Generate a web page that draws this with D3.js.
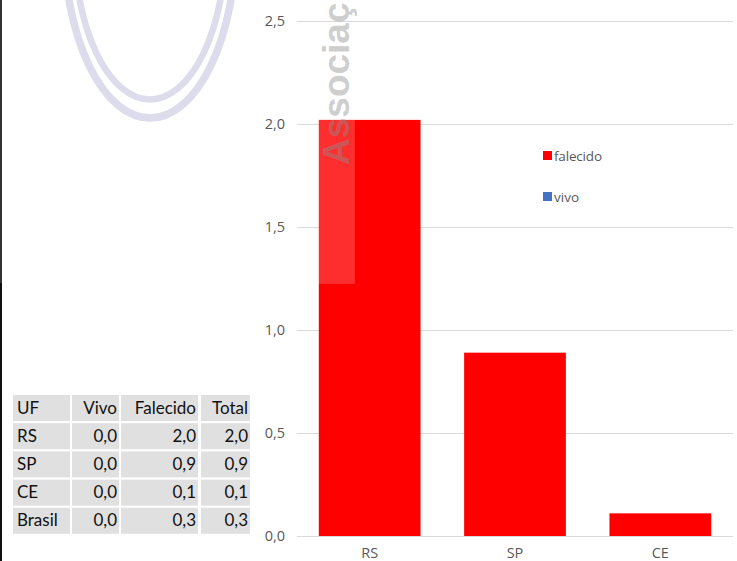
<!DOCTYPE html>
<html>
<head>
<meta charset="utf-8">
<script src="https://cdn.jsdelivr.net/npm/d3@7"></script>
<style>
  html, body { margin: 0; padding: 0; background: #fff; }
  svg { display: block; }
</style>
</head>
<body>
<svg id="chart" width="737" height="561"></svg>
<script>
// ---- data ----
const categories = ["RS", "SP", "CE"];
const seriesKeys = ["vivo", "falecido"];
const vivo = [0, 0, 0];
const falecido = [2.02, 0.89, 0.11];
const yTicks = [0, 0.5, 1.0, 1.5, 2.0, 2.5];
const legendLabels = ["falecido", "vivo"];
const seriesColors = { falecido: "#ff0000", vivo: "#4472c4" };

const tableHeader = ["UF", "Vivo", "Falecido", "Total"];
const tableUF = ["RS", "SP", "CE", "Brasil"];
const tableVivo = [0.0, 0.0, 0.0, 0.0];
const tableFalecido = [2.0, 0.9, 0.1, 0.3];
const tableTotal = [2.0, 0.9, 0.1, 0.3];

// ---- setup ----
const svg = d3.select("#chart");
const W = 737, H = 561;
const ptBr = d3.formatLocale({ decimal: ",", thousands: ".", grouping: [3], currency: ["R$", ""] });
const fmt = ptBr.format(".1f");

const plot = { left: 297, right: 733, top: 21, bottom: 536 };

const x = d3.scaleBand().domain(categories).range([plot.left, plot.right])
  .paddingInner(0.3).paddingOuter(0.15);
const y = d3.scaleLinear().domain([0, 2.5]).range([plot.bottom, plot.top]);

// left dark frame edge
svg.append("rect").attr("x", 0).attr("y", 0).attr("width", 2).attr("height", 283).attr("fill", "#333");
svg.append("rect").attr("x", 0).attr("y", 283).attr("width", 2).attr("height", H - 283).attr("fill", "#111");

// watermark rings
const rings = svg.append("g").attr("fill", "none").attr("stroke", "#dcdcec").attr("stroke-width", 7.5);
rings.append("ellipse").attr("cx", 150).attr("cy", -60).attr("rx", 86).attr("ry", 178);
rings.append("ellipse").attr("cx", 150).attr("cy", -60).attr("rx", 76).attr("ry", 159.5).attr("stroke-width", 6.5);

// grid lines
const grid = svg.append("g");
grid.selectAll("line").data(yTicks).join("line")
  .attr("x1", plot.left).attr("x2", plot.right)
  .attr("y1", d => Math.round(y(d)) + 0.5).attr("y2", d => Math.round(y(d)) + 0.5)
  .attr("stroke", "#d9d9d9").attr("stroke-width", 1);

// y axis labels
const yAxis = d3.axisLeft(y).tickValues(yTicks).tickFormat(fmt).tickSize(0).tickPadding(0);
const yg = svg.append("g").attr("transform", `translate(${plot.left - 12},0)`).call(yAxis);
yg.select(".domain").remove();
yg.selectAll("text").attr("font-family", "'Open Sans', sans-serif").attr("font-size", 14.5)
  .attr("fill", "#595959");

// stacked bars
const rows = categories.map((c, i) => ({ cat: c, vivo: vivo[i], falecido: falecido[i] }));
const stacked = d3.stack().keys(seriesKeys)(rows);
svg.append("g").selectAll("g").data(stacked).join("g")
  .attr("fill", d => seriesColors[d.key])
  .selectAll("rect").data(d => d).join("rect")
  .attr("x", d => x(d.data.cat))
  .attr("width", x.bandwidth())
  .attr("y", d => y(d[1]))
  .attr("height", d => y(d[0]) - y(d[1]));

// x axis labels
const xAxis = d3.axisBottom(x).tickSize(0).tickPadding(0);
const xg = svg.append("g").attr("transform", `translate(0,${plot.bottom})`).call(xAxis);
xg.select(".domain").remove();
xg.selectAll("text").attr("font-family", "'Open Sans', sans-serif").attr("font-size", 14.5)
  .attr("fill", "#595959").attr("dy", "1.5em");

// watermark overlay on first bar + text
svg.append("rect").attr("x", x("RS")).attr("y", y(falecido[0])).attr("width", 36).attr("height", 164)
  .attr("fill", "#fff").attr("opacity", 0.18);
svg.append("text").text("Associaç")
  .attr("transform", "translate(349,165) rotate(-90)")
  .attr("font-family", "'Liberation Sans', Arial, sans-serif").attr("font-weight", "bold")
  .attr("font-size", 37).attr("fill", "#8c8c8c").attr("opacity", 0.42);

// legend
const legend = svg.append("g").attr("transform", "translate(543,151)");
legendLabels.forEach((k, i) => {
  const g = legend.append("g").attr("transform", `translate(0,${i * 41})`);
  g.append("rect").attr("width", 9).attr("height", 9).attr("fill", seriesColors[k]);
  g.append("text").attr("x", 11).attr("y", 9.5).text(k)
    .attr("font-family", "'Open Sans', sans-serif").attr("font-size", 13.5)
    .attr("fill", "#595959").attr("textLength", k === "falecido" ? 48 : 25);
});

// table
const colX = [13, 72, 121, 201];
const colW = [57, 47, 77, 49];
const rowTop = 395, rowPitch = 28.2, rowH = 26;
const tableRows = [tableHeader].concat(tableUF.map((u, i) => [u, fmt(tableVivo[i]), fmt(tableFalecido[i]), fmt(tableTotal[i])]));
const tbl = svg.append("g");
tableRows.forEach((r, ri) => {
  const ty = rowTop + ri * rowPitch;
  r.forEach((cell, ci) => {
    tbl.append("rect").attr("x", colX[ci]).attr("y", ty).attr("width", colW[ci]).attr("height", rowH)
      .attr("fill", "#e0e0e0");
    const left = ci === 0;
    tbl.append("text").text(cell)
      .attr("x", left ? colX[ci] + 4 : colX[ci] + colW[ci] - 2)
      .attr("y", ty + 18.5)
      .attr("text-anchor", left ? "start" : "end")
      .attr("font-family", "Lato, 'Open Sans', sans-serif").attr("font-size", 17)
      .attr("fill", "#111");
  });
});
</script>
</body>
</html>
